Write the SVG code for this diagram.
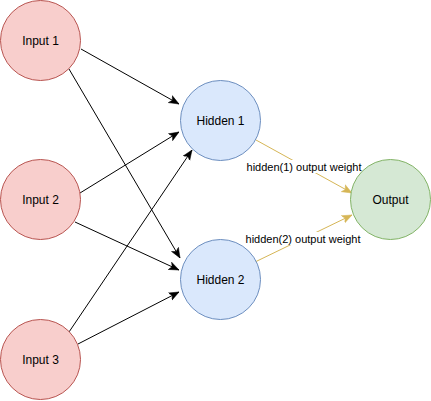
<svg xmlns="http://www.w3.org/2000/svg" width="431" height="401" viewBox="0 0 431 401">
<style>
.in{fill:#f8cecc;stroke:#b85450;stroke-width:1}
.hid{fill:#dae8fc;stroke:#6c8ebf;stroke-width:1}
.out{fill:#d5e8d4;stroke:#82b366;stroke-width:1}
.t{font-family:"Liberation Sans",Arial,sans-serif;font-size:12px;fill:#000;text-anchor:middle;dominant-baseline:central}
.lbl{font-family:"Liberation Sans",Arial,sans-serif;font-size:11px;fill:#000;text-anchor:middle;dominant-baseline:central}
.e{stroke:#000;stroke-width:1;fill:none;marker-end:url(#ab)}
.o{stroke:#d6b656;stroke-width:1;fill:none;marker-end:url(#ao)}
</style>
<defs>
<marker id="ab" viewBox="0 0 10 10" refX="10" refY="5" markerWidth="10" markerHeight="10" markerUnits="userSpaceOnUse" orient="auto"><path d="M0,1 L10,5 L0,9 L2.5,5 Z" fill="#000" stroke="#000" stroke-width="0.5"/></marker>
<marker id="ao" viewBox="0 0 10 10" refX="10" refY="5" markerWidth="10" markerHeight="10" markerUnits="userSpaceOnUse" orient="auto"><path d="M0,1 L10,5 L0,9 L2.5,5 Z" fill="#d6b656" stroke="#d6b656" stroke-width="0.5"/></marker>
</defs>
<g id="connectors">
<line class="e" x1="81" y1="49" x2="179" y2="104"/>
<line class="e" x1="69" y1="69" x2="180" y2="258"/>
<line class="e" x1="80" y1="193" x2="179" y2="132"/>
<line class="e" x1="75" y1="222" x2="179" y2="270"/>
<line class="e" x1="69" y1="332" x2="192" y2="150"/>
<line class="e" x1="78" y1="344" x2="179" y2="292"/>
<line class="o" x1="256" y1="140" x2="352" y2="193"/>
<line class="o" x1="255" y1="262" x2="352" y2="215"/>
<rect x="246" y="160" width="116" height="13" fill="#fff"/>
<text class="lbl" x="304" y="166.5">hidden(1) output weight</text>
<rect x="245" y="232" width="116" height="13" fill="#fff"/>
<text class="lbl" x="303" y="238.5">hidden(2) output weight</text>
</g>
<g id="input1"><circle class="in" cx="40.5" cy="40.5" r="40"/><text class="t" x="40.5" y="40.5">Input 1</text></g>
<g id="input2"><circle class="in" cx="40.5" cy="199.5" r="40"/><text class="t" x="40.5" y="199.5">Input 2</text></g>
<g id="input3"><circle class="in" cx="40.5" cy="359.5" r="40"/><text class="t" x="40.5" y="359.5">Input 3</text></g>
<g id="hidden1"><circle class="hid" cx="220.5" cy="120.5" r="40"/><text class="t" x="220.5" y="120.5">Hidden 1</text></g>
<g id="hidden2"><circle class="hid" cx="220.5" cy="279.5" r="40"/><text class="t" x="220.5" y="279.5">Hidden 2</text></g>
<g id="output"><circle class="out" cx="390.5" cy="199.5" r="40"/><text class="t" x="390.5" y="199.5">Output</text></g>
</svg>
